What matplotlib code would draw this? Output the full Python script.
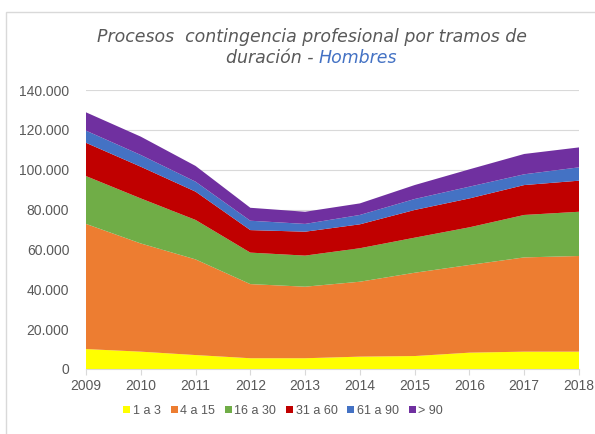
import matplotlib
matplotlib.use("Agg")
import matplotlib.pyplot as plt
from matplotlib.patches import Rectangle
from matplotlib.ticker import FuncFormatter

# Data: number of processes by duration bracket (days), men
years = [2009, 2010, 2011, 2012, 2013, 2014, 2015, 2016, 2017, 2018]
s_1_3 = [10000, 8700, 7000, 5400, 5400, 6200, 6500, 8200, 8700, 8700]
s_4_15 = [62800, 54300, 48000, 37200, 35900, 37600, 41800, 44000, 47300, 48000]
s_16_30 = [24000, 22600, 19800, 15800, 15600, 16800, 17600, 18900, 21300, 22200]
s_31_60 = [16700, 15900, 14200, 11300, 12000, 12000, 13900, 14500, 15000, 15600]
s_61_90 = [6100, 5900, 5000, 4700, 3900, 4700, 5500, 5900, 5400, 6700]
s_90 = [9200, 9200, 7900, 6500, 6100, 5800, 7000, 8700, 10200, 10000]

labels = ["1 a 3", "4 a 15", "16 a 30", "31 a 60", "61 a 90", "> 90"]
colors = ["#FFFF00", "#ED7D31", "#70AD47", "#C00000", "#4472C4", "#7030A0"]

title_line1 = "Procesos  contingencia profesional por tramos de"
title_line2 = "duración - "
title_hl = "Hombres"

W, H = 595, 434
fig = plt.figure(figsize=(W / 100, H / 100), dpi=100)
fig.patch.set_facecolor("white")

# chart frame
fig.patches.append(Rectangle((6 / W, -0.1), 1.2, (H - 12) / H + 0.1,
                             transform=fig.transFigure, fill=False,
                             edgecolor="#D9D9D9", linewidth=1.0))

ax = fig.add_axes([86 / W, (H - 369) / H, (579 - 86) / W, (369 - 90) / H])
ax.stackplot(years, s_1_3, s_4_15, s_16_30, s_31_60, s_61_90, s_90,
             colors=colors, labels=labels, linewidth=0)

ax.set_xlim(years[0], years[-1])
ax.set_ylim(0, 140000)
ax.set_yticks(range(0, 140001, 20000))
ax.yaxis.set_major_formatter(FuncFormatter(lambda v, p: f"{int(v):,}".replace(",", ".")))
ax.set_xticks(years)
ax.grid(axis="y", color="#D9D9D9", linewidth=0.8)
ax.set_axisbelow(True)
for side in ("top", "right", "left"):
    ax.spines[side].set_visible(False)
ax.spines["bottom"].set_color("#D9D9D9")
ax.tick_params(axis="y", length=0, labelsize=10, labelcolor="#595959", pad=12)
ax.tick_params(axis="x", length=4, color="#D9D9D9", labelsize=10,
               labelcolor="#595959", pad=3)
for lbl in ax.get_xticklabels() + ax.get_yticklabels():
    lbl.set_family(["Liberation Sans", "DejaVu Sans"])

leg = fig.legend(loc="center", bbox_to_anchor=(0.476, (H - 411) / H), ncol=6,
                 frameon=False, prop={"family": ["Liberation Sans", "DejaVu Sans"], "size": 9},
                 handlelength=0.55, handleheight=0.55,
                 handletextpad=0.2, columnspacing=0.8)
for t in leg.get_texts():
    t.set_color("#595959")

t1 = fig.text(312 / W, (H - 37) / H, title_line1, ha="center", va="center",
              fontsize=12.5, style="italic", color="#595959")
t2 = fig.text(272 / W, (H - 58) / H, title_line2, ha="center", va="center",
              fontsize=12.5, style="italic", color="#595959")
fig.canvas.draw()
ax.annotate(title_hl, xy=(1, 0), xycoords=t2, ha="left", va="bottom",
            fontsize=12.5, style="italic", color="#4472C4", annotation_clip=False)

fig.savefig("out.png", dpi=100, facecolor="white")
